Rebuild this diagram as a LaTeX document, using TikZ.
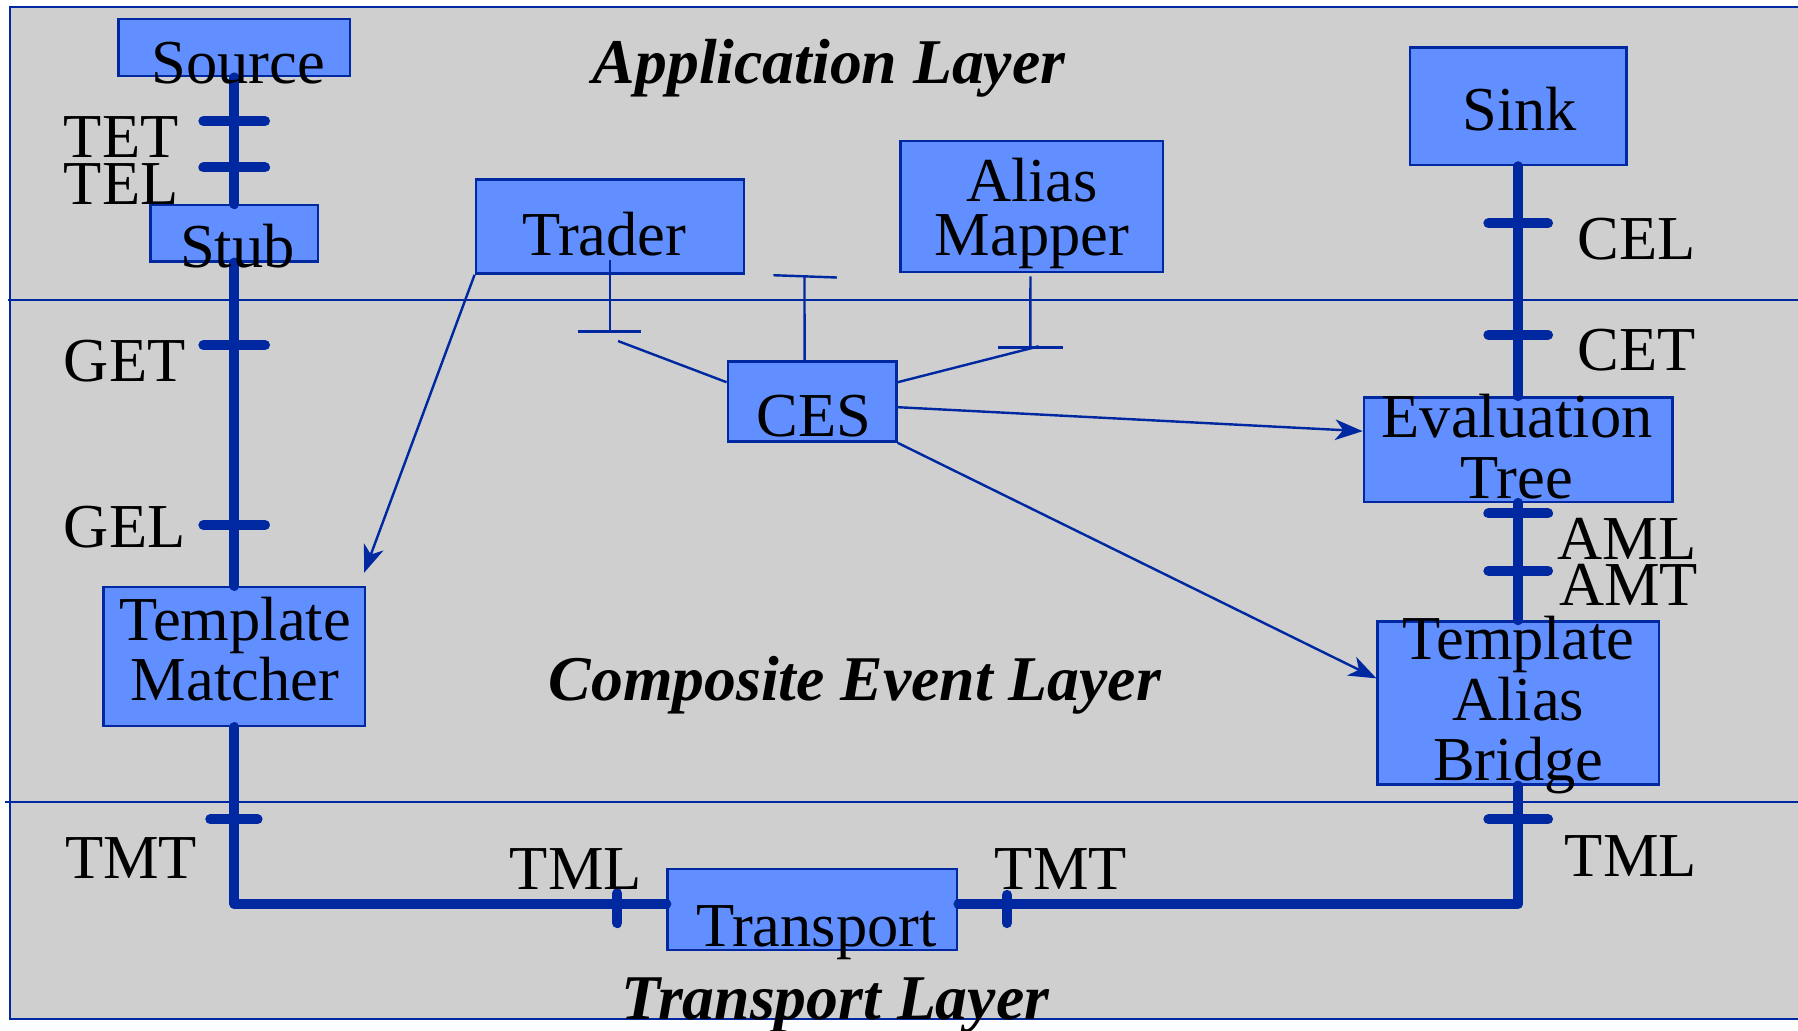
\documentclass[tikz,border=0pt]{standalone}
\usepackage{fontspec}
\setmainfont{Liberation Serif}
\usetikzlibrary{arrows.meta,calc}
\definecolor{layergray}{HTML}{CFCFCF}
\definecolor{busblue}{HTML}{0028A0}
\definecolor{boxblue}{HTML}{628FFF}

\begin{document}
\begin{tikzpicture}[
  x=0.01cm,
  y=-0.01cm,
  every node/.style={font=\fontsize{15.5}{15}\selectfont, inner sep=0pt},
  comp/.style={draw=busblue, line width=0.6pt, fill=boxblue},
  word/.style={text=black, align=center},
  tag/.style={text=black, anchor=base west},
  layername/.style={font=\fontsize{15.8}{16}\selectfont\bfseries\itshape, anchor=base},
  bus/.style={busblue, line width=2.5pt, line cap=round, line join=round},
  tickmark/.style={busblue, line width=2.5pt, line cap=round},
  thinline/.style={busblue, line width=0.6pt},
  arr/.style={thinline, -{Stealth[length=2.4mm,width=1.8mm,inset=0.7mm]}}
]
  \useasboundingbox (0,0) rectangle (1568,899);
  \clip (0,0) rectangle (1568,899);

  % layers
  \draw[busblue, line width=0.6pt, fill=layergray] (8.7,6) rectangle (1590,888.6);
  \draw[busblue, line width=0.6pt] (7,261.6) -- (1590,261.6);
  \draw[busblue, line width=0.6pt] (4.4,699.4) -- (1590,699.4);

  % components
  \node[comp, minimum width=2.02cm, minimum height=0.50cm] (src) at (204.4,41.5) {};
  \node[comp, minimum width=1.46cm, minimum height=0.49cm] (stub) at (204.4,203.5) {};
  \node[comp, minimum width=2.28cm, minimum height=1.21cm] (tm) at (204.4,572.5) {};
  \node[comp, minimum width=2.34cm, minimum height=0.82cm] (trader) at (532,197.5) {};
  \node[comp, minimum width=2.285cm, minimum height=1.14cm] (mapper) at (899.75,180) {};
  \node[comp, minimum width=1.47cm, minimum height=0.70cm] (ces) at (708.25,350.1) {};
  \node[comp, minimum width=1.89cm, minimum height=1.026cm] (sink) at (1324,92.6) {};
  \node[comp, minimum width=2.69cm, minimum height=0.91cm] (evt) at (1324,392) {};
  \node[comp, minimum width=2.45cm, minimum height=1.42cm] (tab) at (1324,613) {};
  \node[comp, minimum width=2.525cm, minimum height=0.705cm] (trans) at (708.5,793.25) {};

  % event bus
  \coordinate (cornerL) at (204.4,788.4);
  \coordinate (cornerR) at (1324,788.4);
  \draw[bus] (src) -- (stub) -- (tm) -- (cornerL) -- (cornerL -| trans.west);
  \draw[bus] (cornerR -| trans.east) -- (cornerR) -- (tab) -- (evt) -- (sink);

  \foreach \y in {105.5,146,300.9,457.8}
    \draw[tickmark] (177.4,\y) -- (231.1,\y);
  \draw[tickmark] (183.4,714.5) -- (224.6,714.5);
  \foreach \y in {194.7,292,447.7,497.7,714.5}
    \draw[tickmark] (1298,\y) -- (1350,\y);
  \draw[tickmark] (538.4,779) -- (538.4,805);
  \draw[tickmark] (878.2,780.4) -- (878.2,805);

  % sockets of the ces
  \coordinate (trsock) at (532,289);
  \coordinate (cessock) at (701.6,241);
  \coordinate (mapsock) at (898.6,303);
  \draw[thinline] ($(trader.south)+(0,-12.7)$) -- (trsock);
  \draw[thinline] (504,289) -- (559,289);
  \draw[thinline] (539,297.4) -- ($(ces.north west)+(0,19.3)$);
  \draw[thinline] ($(ces.north)+(-6.6,0)$) -- (cessock);
  \draw[thinline] (674.5,240) -- (729.8,242);
  \draw[thinline] ($(mapper.south)+(-1.1,3)$) -- (mapsock);
  \draw[thinline] (870.4,303) -- (926.8,303);
  \draw[thinline] ($(ces.north east)+(0,19.3)$) -- (905.8,302);

  % arrows
  \draw[arr] (trader.south west) -- ($(tm.north east)+(-2,-11.4)$);
  \draw[arr] ($(ces.east)+(0,5)$) -- ($(evt.west)+(0,-16)$);
  \draw[arr] (ces.south east) -- ($(tab.west)+(0,-21.4)$);

  % texts
  \node[word, anchor=base] (srctxt) at (208,72.5) {Source};
  \node[word, anchor=base] (stubtxt) at (207,233) {Stub};
  \node[word] (tmtxt) at (205,566) {Template\\Matcher};
  \node[word, anchor=base] (tradertxt) at (527,222.4) {Trader};
  \node[word, font=\fontsize{15.5}{13.4}\selectfont] (mappertxt) at (900,186) {Alias\\Mapper};
  \node[word, anchor=base] (cestxt) at (710,380.8) {CES};
  \node[word, anchor=base] (sinktxt) at (1325.5,113.4) {Sink};
  \node[word] (evttxt) at (1323,389.5) {Evaluation\\Tree};
  \node[word] (tabtxt) at (1324,615) {Template\\Alias\\Bridge};
  \node[word, anchor=base] (transtxt) at (712,825.6) {Transport};

  \node[tag] (tet) at (55,137) {TET};
  \node[tag] (tel) at (55,178) {TEL};
  \node[tag] (get) at (55,333) {GET};
  \node[tag] (gel) at (55,477.6) {GEL};
  \node[tag] (tmtl) at (56,766) {TMT};
  \node[tag] (tmll) at (444,776) {TML};
  \node[tag] (tmtm) at (867,775.5) {TMT};
  \node[tag] (tmlr) at (1364,764.5) {TML};
  \node[tag] (cel) at (1375,226.7) {CEL};
  \node[tag] (cet) at (1375,322.7) {CET};
  \node[tag] (aml) at (1357.5,487.8) {AML};
  \node[tag] (amt) at (1359,527.6) {AMT};

  \node[layername] (applayer) at (723,72.7) {Application Layer};
  \node[layername] (celayer) at (745.5,610.5) {Composite Event Layer};
  \node[layername] (trlayer) at (728.5,889.5) {Transport Layer};
\end{tikzpicture}
\end{document}
